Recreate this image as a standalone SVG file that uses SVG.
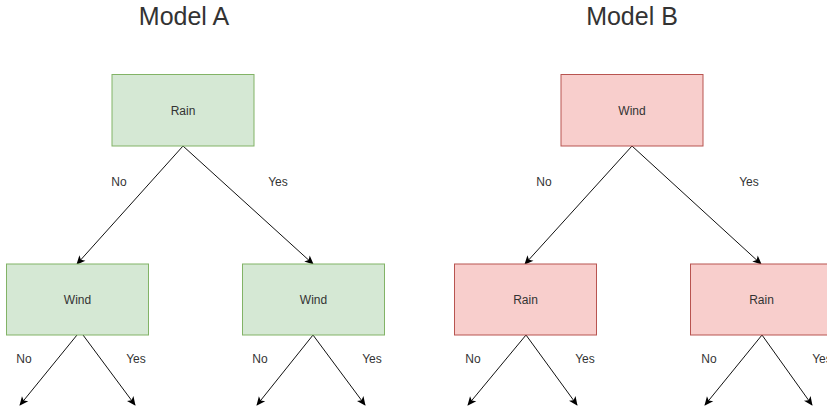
<svg xmlns="http://www.w3.org/2000/svg" width="827" height="409" viewBox="0 0 827 409">
<defs>
<marker id="arr" viewBox="0 0 10 10" refX="9" refY="5" markerWidth="10" markerHeight="9" markerUnits="userSpaceOnUse" orient="auto">
<path d="M0,0.5 L10,5 L0,9.5 L2.5,5 Z" fill="#000"/>
</marker>
</defs>
<style>
.g{fill:#d5e8d4;stroke:#82b366;stroke-width:1}
.r{fill:#f8cecc;stroke:#b85450;stroke-width:1}
.t{font-family:"Liberation Sans",Arial,sans-serif;font-size:12px;fill:#333;text-anchor:middle}
.l{font-family:"Liberation Sans",Arial,sans-serif;font-size:12px;fill:#333;text-anchor:middle}
.h{font-family:"Liberation Sans",Arial,sans-serif;font-size:25px;fill:#333;text-anchor:middle}
.e{stroke:#111;stroke-width:1;fill:none;marker-end:url(#arr)}
</style>
<rect width="827" height="409" fill="#fff"/>
<text class="h" x="184" y="25">Model A</text>
<text class="h" x="632" y="25">Model B</text>
<g id="connectors">
<line class="e" x1="183" y1="146" x2="77" y2="264"/>
<line class="e" x1="183" y1="146" x2="313" y2="264"/>
<line class="e" x1="77" y1="335" x2="20" y2="405"/>
<line class="e" x1="83" y1="335" x2="135" y2="405"/>
<line class="e" x1="313" y1="335" x2="257" y2="405"/>
<line class="e" x1="313" y1="335" x2="365" y2="405"/>
<line class="e" x1="632" y1="146" x2="525" y2="264"/>
<line class="e" x1="632" y1="146" x2="761" y2="264"/>
<line class="e" x1="526" y1="335" x2="468" y2="405"/>
<line class="e" x1="526" y1="335" x2="577" y2="405"/>
<line class="e" x1="762" y1="335" x2="705" y2="405"/>
<line class="e" x1="762" y1="335" x2="812" y2="405"/>
<text class="l" x="119" y="186">No</text>
<text class="l" x="278" y="186">Yes</text>
<text class="l" x="544" y="186">No</text>
<text class="l" x="749" y="186">Yes</text>
<text class="l" x="24" y="363">No</text>
<text class="l" x="136" y="363">Yes</text>
<text class="l" x="260" y="363">No</text>
<text class="l" x="372" y="363">Yes</text>
<text class="l" x="473" y="363">No</text>
<text class="l" x="585" y="363">Yes</text>
<text class="l" x="709" y="363">No</text>
<text class="l" x="822" y="363">Yes</text>
</g>
<g id="a-root"><rect class="g" x="112" y="74.5" width="142" height="71.5"/><text class="t" x="183" y="114.5">Rain</text></g>
<g id="a-left"><rect class="g" x="6.5" y="264" width="142" height="71"/><text class="t" x="77.5" y="303.5">Wind</text></g>
<g id="a-right"><rect class="g" x="242.5" y="264" width="142" height="71"/><text class="t" x="313.5" y="303.5">Wind</text></g>
<g id="b-root"><rect class="r" x="561" y="74.5" width="142" height="71.5"/><text class="t" x="632" y="114.5">Wind</text></g>
<g id="b-left"><rect class="r" x="454.5" y="264" width="142" height="71"/><text class="t" x="525.5" y="303.5">Rain</text></g>
<g id="b-right"><rect class="r" x="690.5" y="264" width="142" height="71"/><text class="t" x="761.5" y="303.5">Rain</text></g>
</svg>
